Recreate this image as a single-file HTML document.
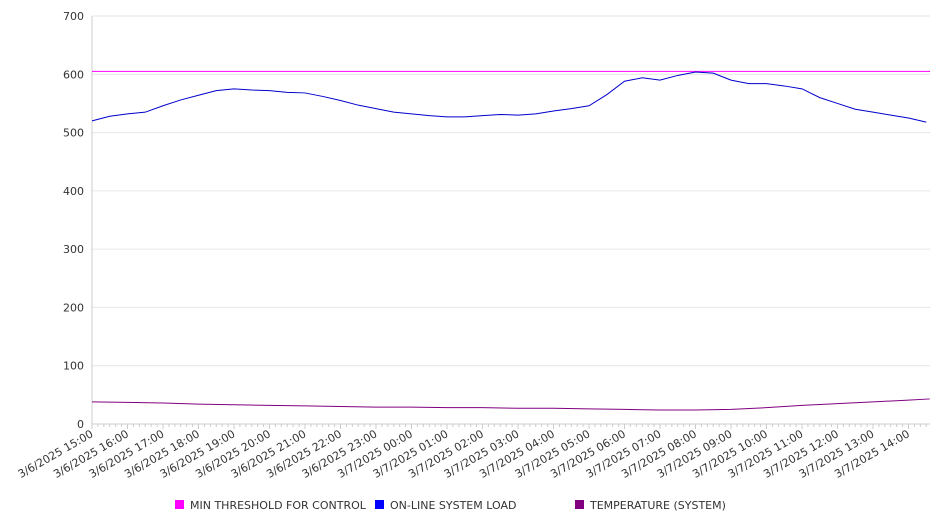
<!DOCTYPE html>
<html><head><meta charset="utf-8"><style>
body{margin:0;background:#fff;}
svg{font-family:"DejaVu Sans","Liberation Sans",sans-serif;}
</style></head><body>
<svg id="chart" width="946" height="526" viewBox="0 0 946 526" xmlns="http://www.w3.org/2000/svg">
<g id="grid"></g>
<g id="axes"></g>
<g id="series"></g>
<g id="legend">
<rect x="175" y="500" width="9" height="9" fill="#ff00ff"/>
<text x="190" y="509" font-size="11" fill="#333">MIN THRESHOLD FOR CONTROL</text>
<rect x="375" y="500" width="9" height="9" fill="#0000ff"/>
<text x="390" y="509" font-size="11" fill="#333">ON-LINE SYSTEM LOAD</text>
<rect x="575" y="500" width="9" height="9" fill="#800080"/>
<text x="590" y="509" font-size="11" fill="#333">TEMPERATURE (SYSTEM)</text>
</g>
</svg>
<script>
const yTicks=[0,100,200,300,400,500,600,700];
const xLabels=["3/6/2025 15:00","3/6/2025 16:00","3/6/2025 17:00","3/6/2025 18:00","3/6/2025 19:00","3/6/2025 20:00","3/6/2025 21:00","3/6/2025 22:00","3/6/2025 23:00","3/7/2025 00:00","3/7/2025 01:00","3/7/2025 02:00","3/7/2025 03:00","3/7/2025 04:00","3/7/2025 05:00","3/7/2025 06:00","3/7/2025 07:00","3/7/2025 08:00","3/7/2025 09:00","3/7/2025 10:00","3/7/2025 11:00","3/7/2025 12:00","3/7/2025 13:00","3/7/2025 14:00"];
const threshold=605;
const loadHours=[0,0.5,1,1.5,2,2.5,3,3.5,4,4.5,5,5.5,6,6.5,7,7.5,8,8.5,9,9.5,10,10.5,11,11.5,12,12.5,13,13.5,14,14.5,15,15.5,16,16.5,17,17.5,18,18.5,19,19.5,20,20.5,21,21.5,22,22.5,23,23.5];
const loadValues=[520,528,532,535,546,556,564,572,575,573,572,569,568,562,555,547,541,535,532,529,527,527,529,531,530,532,537,541,546,565,588,594,590,598,604,602,590,584,584,580,575,560,550,540,535,530,525,518];
const tempHours=[0,1,2,3,4,5,6,7,8,9,10,11,12,13,14,15,16,17,18,19,20,21,22,23,23.6];
const tempValues=[38,37,36,34,33,32,31,30,29,29,28,28,27,27,26,25,24,24,25,28,32,35,38,41,43];

const X0=92,X1=930,Y0=424,Y1=16,HOURPX=35.5;
const xs=h=>X0+h*HOURPX;
const ys=v=>Y0-(v/700)*(Y0-Y1);
const NS="http://www.w3.org/2000/svg";
function mk(tag,parent,attrs){const e=document.createElementNS(NS,tag);for(const k in attrs)e.setAttribute(k,attrs[k]);parent.appendChild(e);return e;}
const grid=document.getElementById('grid'),axes=document.getElementById('axes'),series=document.getElementById('series');
yTicks.forEach(v=>{
  const l=mk('line',grid,{x1:X0,x2:X1,y1:ys(v),y2:ys(v),stroke:'#e6e6e6','stroke-width':1});
  
  
  const t=mk('text',axes,{x:X0-8,y:ys(v)+4,'text-anchor':'end','font-size':11,fill:'#333'});
  t.textContent=v;
  
  
});
const ya=mk('line',axes,{x1:X0,x2:X0,y1:Y1,y2:Y0,stroke:'#ccc'});


const xa=mk('line',axes,{x1:X0,x2:X1,y1:Y0,y2:Y0,stroke:'#ccc'});


for(let m=0;xs(m/6)<=X1;m++){
  const tk=mk('line',axes,{x1:xs(m/6),x2:xs(m/6),y1:Y0,y2:Y0+(m%6==0?5:3),stroke:'#ccc'});
  
  
}
xLabels.forEach((s,i)=>{
  const x=xs(i);
  const t=mk('text',axes,{x:x+2,y:Y0+12,'text-anchor':'end','font-size':11,fill:'#333',transform:`rotate(-30 ${x+2} ${Y0+12})`});
  t.textContent=s;
  
  
});
const th=mk('line',series,{x1:X0,x2:X1,y1:ys(threshold),y2:ys(threshold),stroke:'#ff00ff','stroke-width':1});


const lp=mk('polyline',series,{points:loadHours.map((h,i)=>xs(h)+','+ys(loadValues[i])).join(' '),fill:'none',stroke:'#0000cc','stroke-width':1});


const tp=mk('polyline',series,{points:tempHours.map((h,i)=>xs(h)+','+ys(tempValues[i])).join(' '),fill:'none',stroke:'#800080','stroke-width':1});


</script>
</body></html>
